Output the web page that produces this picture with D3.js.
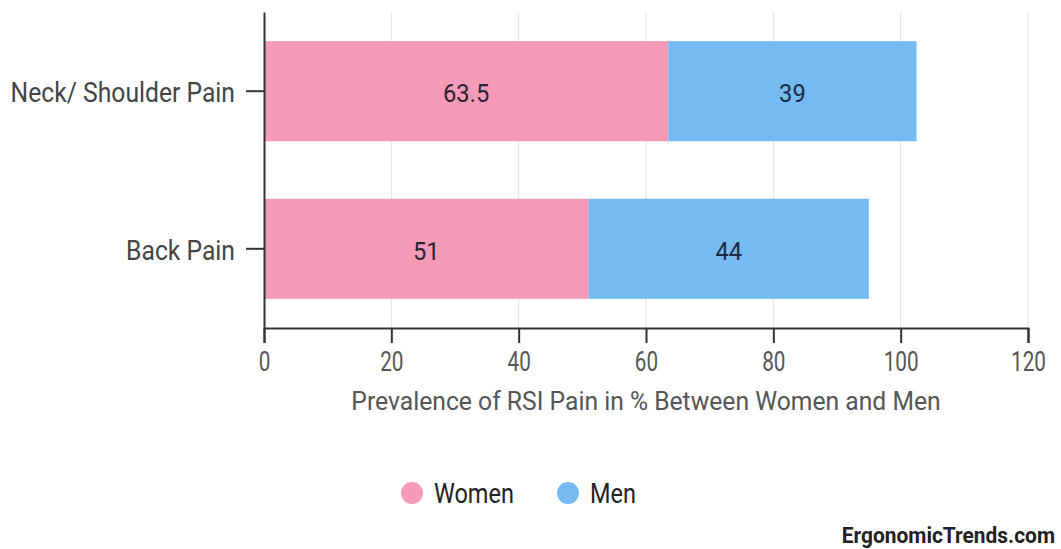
<!DOCTYPE html>
<html>
<head>
<meta charset="utf-8">
<script src="https://cdn.jsdelivr.net/npm/d3@7"></script>
<style>
  html, body { margin: 0; padding: 0; background: #ffffff; }
  svg { display: block; font-family: Roboto, "Noto Sans", sans-serif; }
</style>
</head>
<body>
<svg id="chart" width="1061" height="549"></svg>
<script>
// Pain categories and prevalence (%) per group
const categories = ["Neck/ Shoulder Pain", "Back Pain"];
const women = [63.5, 51];
const men = [39, 44];
const seriesNames = ["Women", "Men"];
const xTicks = [0, 20, 40, 60, 80, 100, 120];
const xTitle = "Prevalence of RSI Pain in % Between Women and Men";
const credit = "ErgonomicTrends.com";

const colors = { Women: "#F59BB8", Men: "#75BAF1" };

const svg = d3.select("#chart");
const margin = { left: 264, right: 33, top: 12, bottom: 221 };
const W = 1061, H = 549;

const x = d3.scaleLinear().domain([0, 120]).range([margin.left, W - margin.right]);
const y = d3.scaleBand().domain(categories)
  .range([margin.top, H - margin.bottom])
  .paddingInner(0.365).paddingOuter(0.185);

// vertical gridlines
svg.append("g").selectAll("line")
  .data(xTicks.filter(d => d > 0))
  .join("line")
  .attr("x1", d => x(d)).attr("x2", d => x(d))
  .attr("y1", margin.top).attr("y2", H - margin.bottom)
  .attr("stroke", "#e3e3e3").attr("stroke-width", 1);

// stacked bars
const rows = categories.map((c, i) => ({ cat: c, Women: women[i], Men: men[i] }));
const stacked = d3.stack().keys(seriesNames)(rows);

const layers = svg.append("g").selectAll("g")
  .data(stacked)
  .join("g")
  .attr("fill", d => colors[d.key]);

layers.selectAll("rect")
  .data(d => d)
  .join("rect")
  .attr("x", d => x(d[0]))
  .attr("width", d => x(d[1]) - x(d[0]))
  .attr("y", d => y(d.data.cat))
  .attr("height", y.bandwidth());

// value labels centred in each segment
layers.selectAll("text")
  .data(d => d.map(v => ({ v, key: d.key })))
  .join("text")
  .attr("transform", d => `translate(${(x(d.v[0]) + x(d.v[1])) / 2},${y(d.v.data.cat) + y.bandwidth() / 2 + 2}) scale(0.93,1)`)
  .attr("dy", "0.36em")
  .attr("text-anchor", "middle")
  .attr("font-size", 25.5)
  .attr("fill", d => d.key === "Women" ? "#2b2333" : "#1d2c45")
  .text(d => d.v.data[d.key]);

// x axis
const xAxis = svg.append("g")
  .attr("transform", `translate(0,${H - margin.bottom})`)
  .call(d3.axisBottom(x).tickValues(xTicks).tickSize(15).tickPadding(8));
xAxis.select(".domain").attr("stroke", "#333").attr("stroke-width", 2);
xAxis.selectAll(".tick line").attr("stroke", "#333").attr("stroke-width", 2);
xAxis.selectAll(".tick text")
  .attr("font-size", 28).attr("font-family", "Roboto, sans-serif")
  .attr("fill", "#555")
  .attr("transform", "scale(0.74,1)");

// y axis
const yAxis = svg.append("g")
  .attr("transform", `translate(${margin.left},0)`)
  .call(d3.axisLeft(y).tickSize(18).tickSizeOuter(0).tickPadding(10));
yAxis.select(".domain").attr("stroke", "#333").attr("stroke-width", 2);
yAxis.selectAll(".tick text")
  .attr("font-size", 27).attr("font-family", "Roboto, sans-serif")
  .attr("fill", "#444")
  .attr("x", -29 / 0.915)
  .attr("y", 2.5)
  .attr("transform", "scale(0.915,1)");
yAxis.selectAll(".tick line").attr("stroke", "#333").attr("stroke-width", 2);

// axis title
svg.append("text")
  .attr("transform", `translate(${(x(0) + x(120)) / 2},410) scale(0.95,1)`)
  .attr("text-anchor", "middle")
  .attr("font-size", 26)
  .attr("fill", "#555")
  .text(xTitle);

// legend
const legendPos = [{ cx: 412, tx: 434 }, { cx: 568, tx: 590 }];
const legend = svg.append("g").selectAll("g")
  .data(seriesNames)
  .join("g");
legend.append("circle")
  .attr("cx", (d, i) => legendPos[i].cx).attr("cy", 493).attr("r", 11)
  .attr("fill", d => colors[d]);
legend.append("text")
  .attr("transform", (d, i) => `translate(${legendPos[i].tx},503) scale(0.87,1)`)
  .attr("font-size", 27)
  .attr("fill", "#222")
  .text(d => d);

// site credit
svg.append("text")
  .attr("transform", "translate(1055,543) scale(0.93,1)")
  .attr("text-anchor", "end")
  .attr("font-size", 22.5)
  .attr("font-weight", "bold")
  .attr("fill", "#222")
  .text(credit);
</script>
</body>
</html>
